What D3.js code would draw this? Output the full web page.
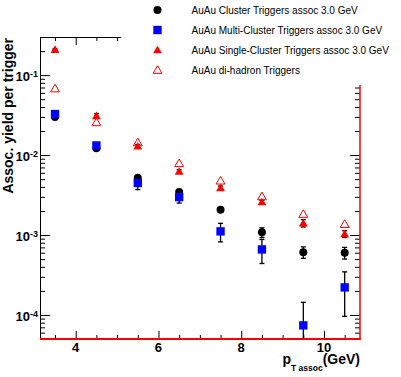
<!DOCTYPE html>
<html>
<head>
<meta charset="utf-8">
<script src="https://cdn.jsdelivr.net/npm/d3@7"></script>
<style>
  body { margin: 0; background: #fff; }
  svg { display: block; font-family: "Liberation Sans", Arial, sans-serif; }
</style>
</head>
<body>
<svg></svg>
<script>
// Data
const ptAssoc = [3.5, 4.5, 5.5, 6.5, 7.5, 8.5, 9.5, 10.5];

const clusterYield = [0.030, 0.0122, 0.0052, 0.00345, 0.00207, 0.00108, 0.00061, 0.00060];
const clusterErr = [0.001, 0.0005, 0.0003, 0.0002, 0.00012, 0.00015, 0.0001, 0.0001];

const multiYield = [0.0326, 0.0132, 0.00447, 0.00298, 0.00111, 0.00066, 0.000074, 0.000221];
const multiErr = [0.001, 0.0006, 0.00077, 0.00047, 0.00029, 0.00022, 0.00007, 0.000125];

const singleYield = [0.209, 0.031, 0.0129, 0.00624, 0.00389, 0.00259, 0.00141, 0.00103];
const singleErr = [0.005, 0.002, 0.0006, 0.0003, 0.0002, 0.00012, 0.00015, 0.0001];

const dihadronYield = [0.068, 0.0257, 0.0144, 0.0079, 0.00478, 0.00304, 0.00183, 0.00137];

const legendLabels = [
    'AuAu Cluster Triggers assoc 3.0 GeV',
    'AuAu Multi-Cluster Triggers assoc 3.0 GeV',
    'AuAu Single-Cluster Triggers assoc 3.0 GeV',
    'AuAu di-hadron Triggers'
];

const xMajor = [4, 6, 8, 10];
const xMinor = [3.5, 4.5, 5, 5.5, 6.5, 7, 7.5, 8.5, 9, 9.5, 10.5];
const yMajor = [1e-4, 1e-3, 1e-2, 1e-1];
const yExp = ['-4', '-3', '-2', '-1'];

// Constants
const width = 401;
const height = 377;
const frameLeft = 40, frameRight = 360, frameTop = 37, frameBottom = 339;

const svg = d3.select('svg')
    .attr('width', width)
    .attr('height', height);

const x = d3.scaleLinear().domain([3.137, 10.87]).range([frameLeft, frameRight]);
const y = d3.scaleLog().domain([5e-5, 0.3]).range([frameBottom, frameTop]);

const yMinor = y.ticks().filter(d => !yMajor.some(m => Math.abs(m - d) / m < 1e-6));

// axes (ticks only, pointing inward)
function tickAxis(axis, values, size, transform) {
    const g = svg.append('g')
        .attr('transform', transform)
        .call(axis.tickValues(values).tickSize(-size).tickFormat(''));
    g.select('.domain').remove();
    g.selectAll('line').attr('stroke', '#000').attr('stroke-width', 1);
    return g;
}

tickAxis(d3.axisBottom(x), xMajor, 8, `translate(0,${frameBottom})`);
tickAxis(d3.axisBottom(x), xMinor, 4, `translate(0,${frameBottom})`);
tickAxis(d3.axisTop(x), xMajor, 8, `translate(0,${frameTop})`);
tickAxis(d3.axisTop(x), xMinor, 4, `translate(0,${frameTop})`);
tickAxis(d3.axisLeft(y), yMajor, 10, `translate(${frameLeft},0)`);
tickAxis(d3.axisLeft(y), yMinor, 5, `translate(${frameLeft},0)`);
tickAxis(d3.axisRight(y), yMajor, 10, `translate(${frameRight},0)`);
tickAxis(d3.axisRight(y), yMinor, 5, `translate(${frameRight},0)`);

// frame
svg.append('line').attr('x1', frameLeft).attr('x2', frameRight).attr('y1', frameTop + 0.5).attr('y2', frameTop + 0.5).attr('stroke', '#000');
svg.append('line').attr('x1', frameLeft + 0.5).attr('x2', frameLeft + 0.5).attr('y1', frameTop).attr('y2', frameBottom).attr('stroke', '#000');
svg.append('line').attr('x1', frameRight).attr('x2', frameRight).attr('y1', frameTop).attr('y2', frameBottom).attr('stroke', '#f00').attr('stroke-width', 1.5);
svg.append('line').attr('x1', frameLeft).attr('x2', frameRight + 0.75).attr('y1', frameBottom).attr('y2', frameBottom).attr('stroke', '#f00').attr('stroke-width', 2);

// tick labels
svg.selectAll('.xlab')
    .data(xMajor).enter().append('text')
    .attr('x', d => x(d))
    .attr('y', 352)
    .attr('text-anchor', 'middle')
    .attr('font-size', 13)
    .attr('font-weight', 'bold')
    .text(d => d);

const yLab = svg.selectAll('.ylab')
    .data(yMajor).enter().append('text')
    .attr('x', 38)
    .attr('y', d => y(d) + 6)
    .attr('text-anchor', 'end')
    .attr('font-weight', 'bold')
    .attr('font-size', 13);
yLab.append('tspan').text('10');
yLab.append('tspan')
    .attr('font-size', 9)
    .attr('dy', -4)
    .text((d, i) => yExp[i]);

// axis titles
svg.append('text')
    .attr('transform', `translate(13,${frameTop + 1}) rotate(-90)`)
    .attr('text-anchor', 'end')
    .attr('font-weight', 'bold')
    .attr('font-size', 14)
    .text('Assoc. yield per trigger');

const xTitle = svg.append('text')
    .attr('x', frameRight)
    .attr('y', 364)
    .attr('text-anchor', 'end')
    .attr('font-weight', 'bold')
    .attr('font-size', 14);
xTitle.append('tspan').text('p');
xTitle.append('tspan').attr('font-size', 8.5).attr('dy', 7).text('T assoc');
xTitle.append('tspan').attr('dy', -7).text('(GeV)');

// markers
const triUp = d3.symbol().type(d3.symbolTriangle).size(34)();
const sq = d3.symbol().type(d3.symbolSquare).size(70)();

function errorBars(values, errs) {
    const g = svg.append('g').attr('stroke', '#000').attr('stroke-width', 1.3);
    values.forEach((v, i) => {
        const cx = x(ptAssoc[i]);
        const lo = Math.max(v - errs[i], 1e-6);
        const y1 = y(v + errs[i]);
        const y2 = Math.min(y(lo), frameBottom);
        g.append('line').attr('x1', cx).attr('x2', cx).attr('y1', y1).attr('y2', y2);
        g.append('line').attr('x1', cx - 2.5).attr('x2', cx + 2.5).attr('y1', y1).attr('y2', y1);
        if (y(lo) < frameBottom) {
            g.append('line').attr('x1', cx - 2.5).attr('x2', cx + 2.5).attr('y1', y2).attr('y2', y2);
        }
    });
}

errorBars(clusterYield, clusterErr);
errorBars(multiYield, multiErr);
errorBars(singleYield, singleErr);

svg.append('g').selectAll('circle')
    .data(clusterYield).enter().append('circle')
    .attr('cx', (d, i) => x(ptAssoc[i]))
    .attr('cy', d => y(d))
    .attr('r', 4)
    .attr('fill', '#000');

svg.append('g').selectAll('path')
    .data(multiYield).enter().append('path')
    .attr('d', sq)
    .attr('transform', (d, i) => `translate(${x(ptAssoc[i])},${y(d)})`)
    .attr('fill', '#00f');

svg.append('g').selectAll('path')
    .data(singleYield).enter().append('path')
    .attr('d', triUp)
    .attr('transform', (d, i) => `translate(${x(ptAssoc[i])},${y(d) + 0.8})`)
    .attr('fill', '#f00');

svg.append('g').selectAll('path')
    .data(dihadronYield).enter().append('path')
    .attr('d', triUp)
    .attr('transform', (d, i) => `translate(${x(ptAssoc[i])},${y(d) + 0.8})`)
    .attr('fill', 'none')
    .attr('stroke', '#f00')
    .attr('stroke-width', 1);

// legend (white box, covers the top-right corner of the frame)
svg.append('rect')
    .attr('x', 121).attr('y', 0)
    .attr('width', width - 121).attr('height', 85)
    .attr('fill', '#fff');

const legendRows = [10, 30, 50, 70];
const legendX = 157.5;

svg.append('circle').attr('cx', legendX).attr('cy', legendRows[0]).attr('r', 4).attr('fill', '#000');
svg.append('path').attr('d', sq).attr('transform', `translate(${legendX},${legendRows[1]})`).attr('fill', '#00f');
svg.append('path').attr('d', triUp).attr('transform', `translate(${legendX},${legendRows[2] + 0.8})`).attr('fill', '#f00');
svg.append('path').attr('d', triUp).attr('transform', `translate(${legendX},${legendRows[3] + 0.8})`)
    .attr('fill', 'none').attr('stroke', '#f00');

svg.selectAll('.legtext')
    .data(legendLabels).enter().append('text')
    .attr('x', 191.5)
    .attr('y', (d, i) => legendRows[i] + 3.5)
    .attr('font-size', 10)
    .text(d => d);
</script>
</body>
</html>
